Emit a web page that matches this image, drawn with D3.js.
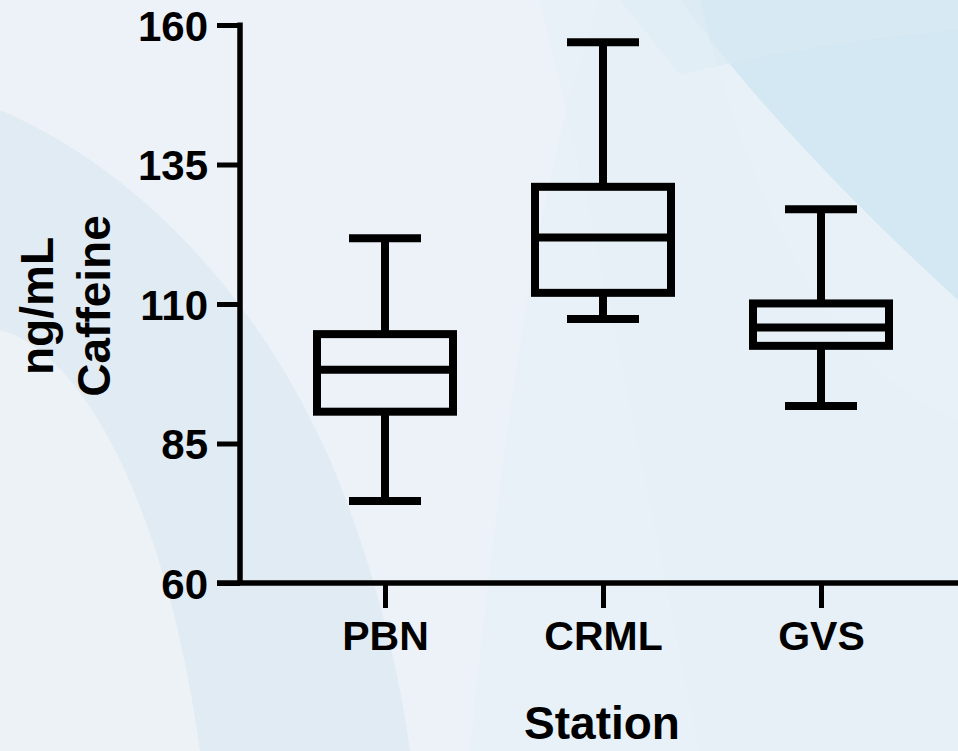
<!DOCTYPE html>
<html>
<head>
<meta charset="utf-8">
<script src="https://cdn.jsdelivr.net/npm/d3@7"></script>
<style>
  html, body { margin: 0; padding: 0; background: #e8f1f7; }
  svg { display: block; }
  text { font-family: "Liberation Sans", Arial, sans-serif; font-weight: bold; fill: #000; }
</style>
</head>
<body>
<svg id="chart" width="958" height="751"></svg>
<script>
// ---- data ----
const categories = ["PBN", "CRML", "GVS"];
const whiskerMin = [74.7, 107.3, 91.7];
const q1Values   = [90.7, 112.0, 102.5];
const medians    = [98.2, 121.9, 105.8];
const q3Values   = [104.6, 131.0, 110.1];
const whiskerMax = [121.8, 156.9, 127.0];
const yTicks = [60, 85, 110, 135, 160];
const yTitleLines = ["ng/mL", "Caffeine"];
const xTitle = "Station";

const svg = d3.select("#chart");
const W = 958, H = 751;

// ---- background decoration ----
const bg = svg.append("g");
bg.append("rect").attr("width", W).attr("height", H).attr("fill", "#e8f1f7");
bg.append("path").attr("d", "M0,0 L600,0 C560,120 520,260 470,751 L0,751 Z").attr("fill", "#ecf2f8");
bg.append("path").attr("d", "M0,110 C140,170 260,300 330,460 C380,580 400,680 410,751 L0,751 Z").attr("fill", "#e0eaf2").attr("opacity", 0.9);
bg.append("path").attr("d", "M0,330 C80,350 165,500 200,751 L0,751 Z").attr("fill", "#edf2f6");
bg.append("path").attr("d", "M680,0 C760,110 870,220 958,300 L958,0 Z").attr("fill", "#d3e8f2");
bg.append("path").attr("d", "M620,0 L958,0 L958,30 C850,40 760,55 680,75 Z").attr("fill", "#dae9f2").attr("opacity", 0.6);
bg.append("path").attr("d", "M540,0 C600,240 650,500 700,751 L958,751 L958,420 C850,380 760,250 700,0 Z").attr("fill", "#e4eff6").attr("opacity", 0.5);

// ---- scales ----
const y = d3.scaleLinear().domain([60, 160]).range([583, 25]);
const x = d3.scalePoint().domain(categories).range([385, 821]);

const boxW = 136, capW = 72, sw = 8;
const g = svg.append("g");

// axes
const yAxis = d3.axisLeft(y).tickValues(yTicks).tickSize(23).tickPadding(9).tickSizeOuter(0);
const yg = svg.append("g").attr("transform", "translate(240,0)").call(yAxis);
yg.select(".domain").remove();
yg.selectAll(".tick line").attr("stroke", "#000").attr("stroke-width", 5);
yg.selectAll(".tick text").attr("font-size", 42).attr("font-family", "Liberation Sans, Arial, sans-serif").attr("font-weight", "bold").attr("fill", "#000").attr("dy", "0.36em");
svg.append("line").attr("x1", 240).attr("x2", 240).attr("y1", y(160) - 2.5).attr("y2", y(60)).attr("stroke", "#000").attr("stroke-width", 5.5);
svg.append("line").attr("x1", 217).attr("x2", W).attr("y1", y(60)).attr("y2", y(60)).attr("stroke", "#000").attr("stroke-width", 5.5);

const xAxis = d3.axisBottom(x).tickSize(25).tickPadding(14).tickSizeOuter(0);
const xg = svg.append("g").attr("transform", `translate(0,${y(60)})`).call(xAxis);
xg.select(".domain").remove();
xg.selectAll(".tick line").attr("stroke", "#000").attr("stroke-width", 5);
xg.selectAll(".tick text").attr("font-size", 41).attr("font-family", "Liberation Sans, Arial, sans-serif").attr("font-weight", "bold").attr("fill", "#000").attr("dy", "0.69em");

// boxes
categories.forEach((c, i) => {
  const cx = x(c);
  const bx = g.append("g").attr("stroke", "#000").attr("stroke-width", sw).attr("fill", "none");
  bx.append("line").attr("x1", cx).attr("x2", cx).attr("y1", y(whiskerMax[i])).attr("y2", y(q3Values[i]));
  bx.append("line").attr("x1", cx).attr("x2", cx).attr("y1", y(q1Values[i])).attr("y2", y(whiskerMin[i]));
  bx.append("line").attr("x1", cx - capW / 2).attr("x2", cx + capW / 2).attr("y1", y(whiskerMax[i])).attr("y2", y(whiskerMax[i]));
  bx.append("line").attr("x1", cx - capW / 2).attr("x2", cx + capW / 2).attr("y1", y(whiskerMin[i])).attr("y2", y(whiskerMin[i]));
  bx.append("rect").attr("x", cx - boxW / 2).attr("width", boxW)
    .attr("y", y(q3Values[i])).attr("height", y(q1Values[i]) - y(q3Values[i]))
    .attr("stroke-linejoin", "miter");
  bx.append("line").attr("x1", cx - boxW / 2).attr("x2", cx + boxW / 2).attr("y1", y(medians[i])).attr("y2", y(medians[i]));
});

// titles
svg.append("text").attr("x", 602).attr("y", 739).attr("text-anchor", "middle").attr("font-size", 46).text(xTitle);
const yt = svg.append("text").attr("transform", "translate(0,306) rotate(-90)").attr("text-anchor", "middle").attr("font-size", 46);
yTitleLines.forEach((t, i) => {
  yt.append("tspan").attr("x", 0).attr("y", i === 0 ? 53 : 110).text(t);
});
</script>
</body>
</html>
